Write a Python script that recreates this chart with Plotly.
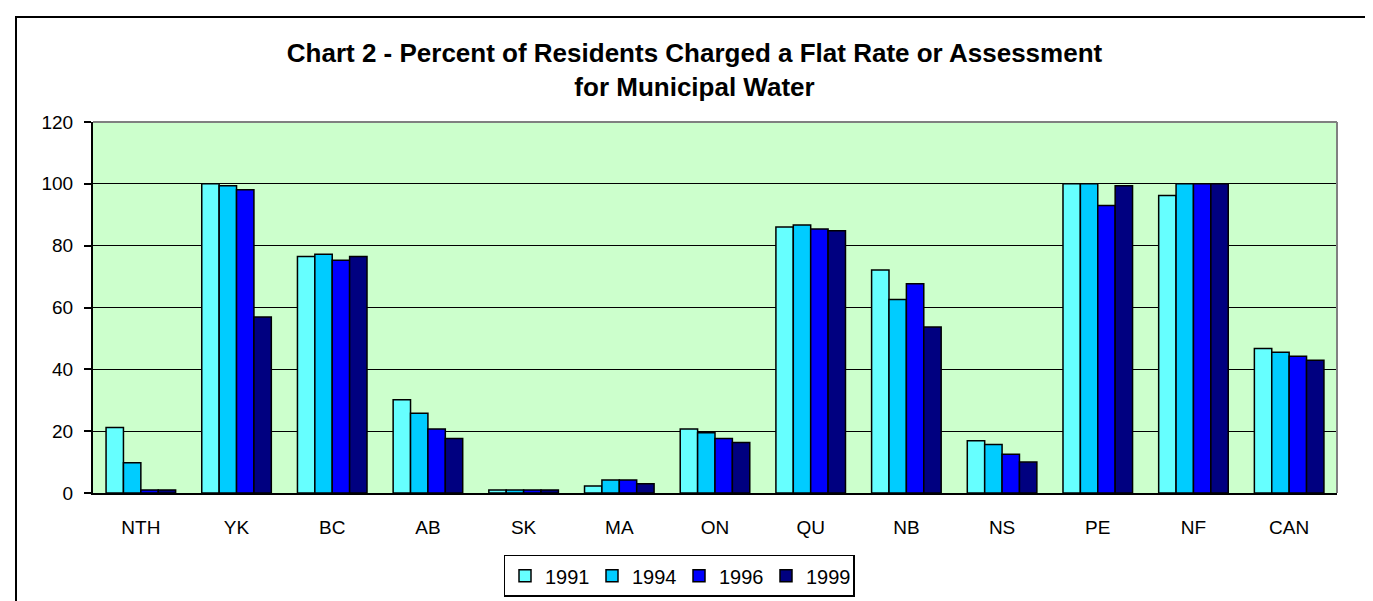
import plotly.graph_objects as go

categories = ["NTH", "YK", "BC", "AB", "SK", "MA", "ON", "QU", "NB", "NS", "PE", "NF", "CAN"]
years = ["1991", "1994", "1996", "1999"]
v1991 = [21.2, 100, 76.5, 30.2, 1, 2.3, 20.7, 86.0, 72.1, 16.9, 100, 96.2, 46.7]
v1994 = [9.8, 99.4, 77.2, 25.8, 1, 4.2, 19.5, 86.7, 62.6, 15.7, 100, 100, 45.5]
v1996 = [1, 98.1, 75.3, 20.7, 1, 4.2, 17.6, 85.4, 67.7, 12.5, 93.0, 100, 44.2]
v1999 = [1, 56.9, 76.5, 17.6, 1, 3.0, 16.3, 84.8, 53.7, 10.0, 99.4, 100, 42.9]
series = [v1991, v1994, v1996, v1999]
colors = ["#66FFFF", "#00CCFF", "#0000FF", "#000080"]
yticks = [0, 20, 40, 60, 80, 100, 120]

FONT = "Liberation Sans, Arial, sans-serif"

fig = go.Figure()
for name, vals, col in zip(years, series, colors):
    fig.add_trace(go.Bar(x=categories, y=vals, name=name,
                         marker=dict(color=col, line=dict(color="black", width=1.5))))

W, H = 1373, 601
L, R, T, B = 85, 1329, 114, 492
pw, ph = R - L, B - T

def px(x):
    return (x - L) / pw

def py(y):
    return (B - y) / ph

fig.update_layout(
    width=W, height=H,
    margin=dict(l=L, r=W - R, t=T, b=H - B, pad=0),
    paper_bgcolor="white",
    plot_bgcolor="#CCFFCC",
    barmode="group", bargap=0.273, bargroupgap=0,
    font=dict(family=FONT, size=19, color="black"),
    title=dict(text="<b>Chart 2 - Percent of Residents Charged a Flat Rate or Assessment<br>for Municipal Water</b>",
               x=0.5, xanchor="center", y=1 - 54 / H, yanchor="middle",
               font=dict(family=FONT, size=26, color="black")),
    showlegend=True,
    legend=dict(orientation="h", x=px(671), xanchor="center", y=py(555), yanchor="top",
                bordercolor="black", borderwidth=1.5, bgcolor="white",
                font=dict(family=FONT, size=20), traceorder="normal",
                itemwidth=30, entrywidth=42, entrywidthmode="pixels", tracegroupgap=0),
    xaxis=dict(showline=True, linecolor="black", linewidth=2, ticks="",
               tickfont=dict(family=FONT, size=19), showgrid=False, fixedrange=True,
               ticklabelstandoff=16),
    yaxis=dict(range=[0, 120], tickvals=yticks, showline=True, linecolor="black", linewidth=2,
               ticks="outside", ticklen=7, tickcolor="black", tickwidth=1.5,
               showgrid=True, gridcolor="black", gridwidth=1, zeroline=False,
               tickfont=dict(family=FONT, size=19), fixedrange=True,
               ticklabelstandoff=7),
    shapes=[
        dict(type="line", xref="paper", yref="paper", x0=0, x1=1, y0=1, y1=1,
             line=dict(color="#808080", width=2), layer="above"),
        dict(type="line", xref="paper", yref="paper", x0=1, x1=1, y0=0, y1=1,
             line=dict(color="#808080", width=2), layer="above"),
        dict(type="rect", xref="paper", yref="paper", x0=px(8), x1=px(1367), y0=py(7), y1=py(612),
             line=dict(color="black", width=2), fillcolor="rgba(0,0,0,0)", layer="above"),
    ],
)

fig.write_html("out.html")
